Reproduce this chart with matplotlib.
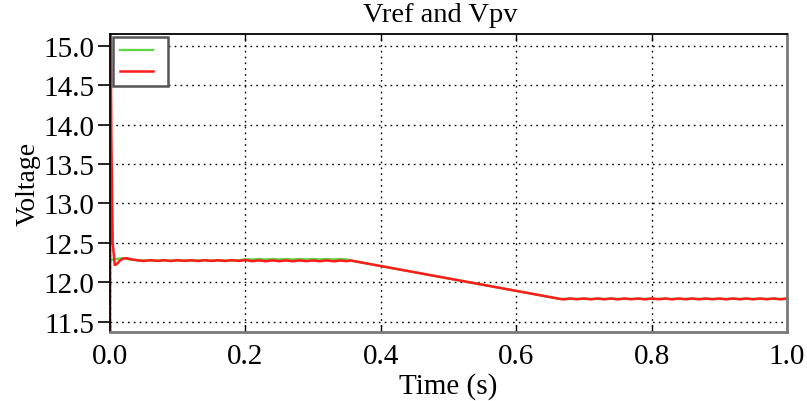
import numpy as np
import matplotlib
matplotlib.use("Agg")
import matplotlib.pyplot as plt

plt.rcParams['font.family'] = ['Liberation Serif', 'DejaVu Serif']

# ---- data ----
# start-up transient
t_start_red = [0.0, 0.0008, 0.002, 0.004, 0.007, 0.010, 0.014, 0.019, 0.025, 0.032, 0.040]
v_start_red = [11.30, 15.30, 13.80, 12.50, 12.22, 12.23, 12.27, 12.30, 12.305, 12.29, 12.28]
t_start_grn = [0.0, 0.004, 0.010, 0.015, 0.020, 0.028, 0.040]
v_start_grn = [12.285, 12.288, 12.295, 12.302, 12.305, 12.292, 12.280]

# first plateau (0.05 .. 0.35 s)
t_plat1 = [0.05, 0.06, 0.07, 0.08, 0.09, 0.10, 0.11, 0.12, 0.13, 0.14, 0.15,
           0.16, 0.17, 0.18, 0.19, 0.20, 0.21, 0.22, 0.23, 0.24, 0.25, 0.26,
           0.27, 0.28, 0.29, 0.30, 0.31, 0.32, 0.33, 0.34, 0.35]
v_plat1_red = [12.270, 12.281, 12.271, 12.280, 12.270, 12.281, 12.271, 12.280,
               12.270, 12.281, 12.271, 12.280, 12.270, 12.281, 12.271, 12.282,
               12.268, 12.278, 12.267, 12.278, 12.268, 12.277, 12.267, 12.278,
               12.268, 12.277, 12.267, 12.278, 12.266, 12.276, 12.268]
v_plat1_grn = [12.276, 12.276, 12.276, 12.276, 12.276, 12.276, 12.276, 12.276,
               12.276, 12.276, 12.276, 12.276, 12.276, 12.276, 12.278, 12.292,
               12.290, 12.295, 12.290, 12.295, 12.290, 12.295, 12.290, 12.295,
               12.290, 12.295, 12.290, 12.295, 12.290, 12.295, 12.290]

# ramp
t_ramp = [0.355, 0.665]
v_ramp = [12.277, 11.789]

# second plateau (0.67 .. 1.0 s)
t_plat2 = [0.67, 0.68, 0.69, 0.70, 0.71, 0.72, 0.73, 0.74, 0.75, 0.76, 0.77,
           0.78, 0.79, 0.80, 0.81, 0.82, 0.83, 0.84, 0.85, 0.86, 0.87, 0.88,
           0.89, 0.90, 0.91, 0.92, 0.93, 0.94, 0.95, 0.96, 0.97, 0.98, 0.99, 1.00]
v_plat2_red = [11.784, 11.795, 11.785, 11.795, 11.784, 11.795, 11.785, 11.795,
               11.784, 11.795, 11.785, 11.795, 11.784, 11.795, 11.785, 11.795,
               11.784, 11.795, 11.785, 11.795, 11.784, 11.795, 11.785, 11.795,
               11.784, 11.795, 11.785, 11.795, 11.784, 11.795, 11.785, 11.795,
               11.784, 11.795]
v_plat2_grn = [11.790, 11.790]
t_plat2_grn = [0.67, 1.00]

t_red = t_start_red + t_plat1 + t_ramp + t_plat2
v_red = v_start_red + v_plat1_red + v_ramp + v_plat2_red
t_grn = t_start_grn + t_plat1 + t_ramp + t_plat2_grn
v_grn = v_start_grn + v_plat1_grn + v_ramp + v_plat2_grn

xticks = [0.0, 0.2, 0.4, 0.6, 0.8, 1.0]
yticks = [11.5, 12.0, 12.5, 13.0, 13.5, 14.0, 14.5, 15.0]

# ---- plot ----
fig = plt.figure(figsize=(8.07, 4.02), dpi=100)
ax = fig.add_axes([110/807, 1-333/402, (787-110)/807, (333-35)/402])

green = '#5fd646'
red = '#ff1c1c'
lg, = ax.plot(t_grn, v_grn, color=green, lw=1.7)
lr, = ax.plot(t_red, v_red, color=red, lw=1.8)

ax.set_xlim(0, 1.0)
ax.set_ylim(11.37, 15.148)
ax.set_xticks(xticks)
ax.set_yticks(yticks)
ax.set_xticklabels([f"{x:.1f}" for x in xticks])
ax.set_yticklabels([f"{y:.1f}" for y in yticks])
ax.tick_params(axis='y', direction='out', length=9, width=1.2, labelsize=21, pad=2)
ax.tick_params(axis='x', direction='in', length=5, width=1.0, labelsize=21, pad=8, top=True)

ax.grid(True, color='black', linestyle=(0, (1.2, 3)), linewidth=1.0)

for side in ['top', 'left']:
    ax.spines[side].set_color('black')
    ax.spines[side].set_linewidth(1.3)
for side in ['bottom', 'right']:
    ax.spines[side].set_color('#7a7a7a')
    ax.spines[side].set_linewidth(2.0)

ax.set_title("Vref and Vpv", fontsize=20.5, pad=9, x=0.488)
ax.set_xlabel("Time (s)", fontsize=21, labelpad=2)
ax.set_ylabel("Voltage", fontsize=20, labelpad=2)

leg = ax.legend(handles=[lg, lr], labels=["", ""], loc='upper left',
                bbox_to_anchor=(0.0, 1.0), borderaxespad=0.2, fontsize=10,
                handlelength=2.35, handletextpad=0.5, labelspacing=0.6,
                borderpad=0.55, fancybox=False, framealpha=1.0)
leg.get_frame().set_edgecolor('#555555')
leg.get_frame().set_linewidth(1.8)

fig.savefig("out.png", dpi=100)
